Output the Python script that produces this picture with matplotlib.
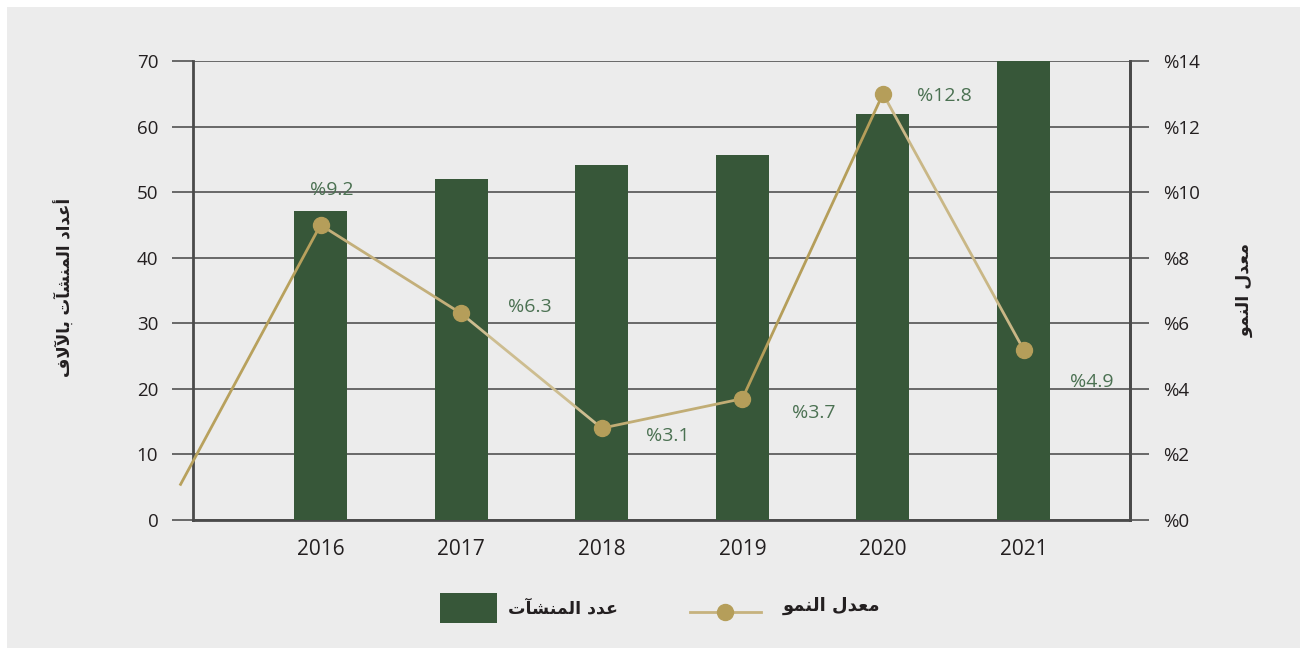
import matplotlib
matplotlib.use("Agg")
import matplotlib.pyplot as plt
from matplotlib.patches import Rectangle
from matplotlib.lines import Line2D
from matplotlib.transforms import offset_copy

# ---- data ----
years = ["2016", "2017", "2018", "2019", "2020", "2021"]
establishments = [47.1, 52.0, 54.1, 55.7, 61.9, 70.0]      # thousands
growth_x = [-1, 0, 1, 2, 3, 4, 5]                           # first point = prior year (no marker)
growth = [1.05, 9.0, 6.3, 2.8, 3.7, 13.0, 5.2]               # %
growth_labels = ["%9.2", "%6.3", "%3.1", "%3.7", "%12.8", "%4.9"]
left_ticks = [0, 10, 20, 30, 40, 50, 60, 70]
right_ticks = [0, 2, 4, 6, 8, 10, 12, 14]

# Arabic text in presentation forms (visual order)
ylabel_left = "ﻑﻻﻵﺎﺑ ﺕﺂﺸﻨﻤﻟﺍ ﺩﺍﺪﻋﺃ"      # أعداد المنشآت بالآلاف
ylabel_right = "ﻮﻤﻨﻟﺍ ﻝﺪﻌﻣ"               # معدل النمو
legend_bar = "ﺕﺂﺸﻨﻤﻟﺍ ﺩﺪﻋ"                # عدد المنشآت
legend_line = "ﻮﻤﻨﻟﺍ ﻝﺪﻌﻣ"                # معدل النمو

# ---- style ----
BAR = "#375739"
GOLD = "#b59e5a"
SEG_COLORS = ["#b8a15d", "#c3af7a", "#cdbd90", "#c1ad75", "#b59e5a", "#c9b786"]
LABEL_GREEN = "#4b7152"
BG = "#ececec"
GRID = "#5e5e5e"
SPINE = "#4a4a4a"
TXT = "#231f20"
label_offsets = [(11, 35), (69, 6), (66, -8), (71, -14), (61, -2), (68, -32)]  # pixels

W, H = 1307, 655
fig = plt.figure(figsize=(W / 100, H / 100), dpi=100, facecolor="white")
fig.patches.append(Rectangle((7 / W, 7 / H), 1293 / W, 641 / H, transform=fig.transFigure,
                             facecolor=BG, edgecolor="none", zorder=-10))

ax = fig.add_axes([193 / W, 1 - 520 / H, (1130 - 193) / W, (520 - 61) / H])
ax.set_facecolor("none")
xs = list(range(len(years)))
ax.bar(xs, establishments, width=0.377, color=BAR, zorder=3)
ax.set_xlim(-0.907, 5.757)
ax.set_ylim(0, 70)
ax.set_yticks(left_ticks)
ax.set_yticklabels([str(v) for v in left_ticks], fontsize=13.5, color=TXT, family="Open Sans")
ax.set_xticks(xs)
ax.set_xticklabels(years, fontsize=15, color=TXT, family="Open Sans")
ax.tick_params(axis="x", length=0, pad=14)
ax.tick_params(axis="y", direction="out", length=15, width=1.3, color=GRID, pad=10)
ax.grid(axis="y", color=GRID, linewidth=1.3, zorder=1)
ax.set_axisbelow(True)
ax.spines["top"].set_visible(False)
for s in ["left", "right", "bottom"]:
    ax.spines[s].set_color(SPINE)
    ax.spines[s].set_linewidth(2)

ax2 = ax.twinx()
ax2.set_ylim(0, 14)
ax2.set_yticks(right_ticks)
ax2.set_yticklabels(["%" + str(v) for v in right_ticks], fontsize=13.5, color=TXT, family="Open Sans")
ax2.tick_params(axis="y", direction="out", length=14, width=1.3, color=GRID, pad=10)
for s in ["top", "left", "bottom"]:
    ax2.spines[s].set_visible(False)
ax2.spines["right"].set_color(SPINE)
ax2.spines["right"].set_linewidth(2)

for i in range(len(growth) - 1):
    ax2.plot(growth_x[i:i + 2], growth[i:i + 2], color=SEG_COLORS[i], lw=2.0,
             solid_capstyle="butt", clip_on=False, zorder=4)
ax2.plot(growth_x[1:], growth[1:], linestyle="none", marker="o", markersize=11.5,
         color=GOLD, zorder=5, clip_on=False)

for (x, y, lab, off) in zip(growth_x[1:], growth[1:], growth_labels, label_offsets):
    tr = offset_copy(ax2.transData, fig=fig, x=off[0], y=off[1], units="dots")
    ax2.text(x, y, lab, transform=tr, ha="center", va="center", fontsize=14,
             color=LABEL_GREEN, family="Open Sans", zorder=6)

# axis titles
fig.text(65 / W, 1 - 287 / H, ylabel_left, rotation=90, ha="center", va="center",
         fontsize=12, fontweight="bold", color=TXT, family="DejaVu Sans")
fig.text(1245 / W, 1 - 290 / H, ylabel_right, rotation=90, ha="center", va="center",
         fontsize=12.5, fontweight="bold", color=TXT, family="DejaVu Sans")

# legend
fig.patches.append(Rectangle((440 / W, 1 - 623 / H), 57 / W, 30 / H, transform=fig.transFigure,
                             facecolor=BAR, edgecolor="none", zorder=2))
fig.text(618 / W, 1 - 608 / H, legend_bar, ha="right", va="center", fontsize=12.5,
         fontweight="bold", color=TXT, family="DejaVu Sans")
fig.lines.append(Line2D([690 / W, 761 / W], [1 - 612 / H, 1 - 612 / H], transform=fig.transFigure,
                        color="#c6b27e", lw=2.0))
fig.lines.append(Line2D([725 / W], [1 - 612 / H], transform=fig.transFigure, marker="o",
                        markersize=11.5, color=GOLD, linestyle="none"))
fig.text(880 / W, 1 - 606 / H, legend_line, ha="right", va="center", fontsize=13,
         fontweight="bold", color=TXT, family="DejaVu Sans")

fig.savefig("out.png", dpi=100, facecolor="white")
